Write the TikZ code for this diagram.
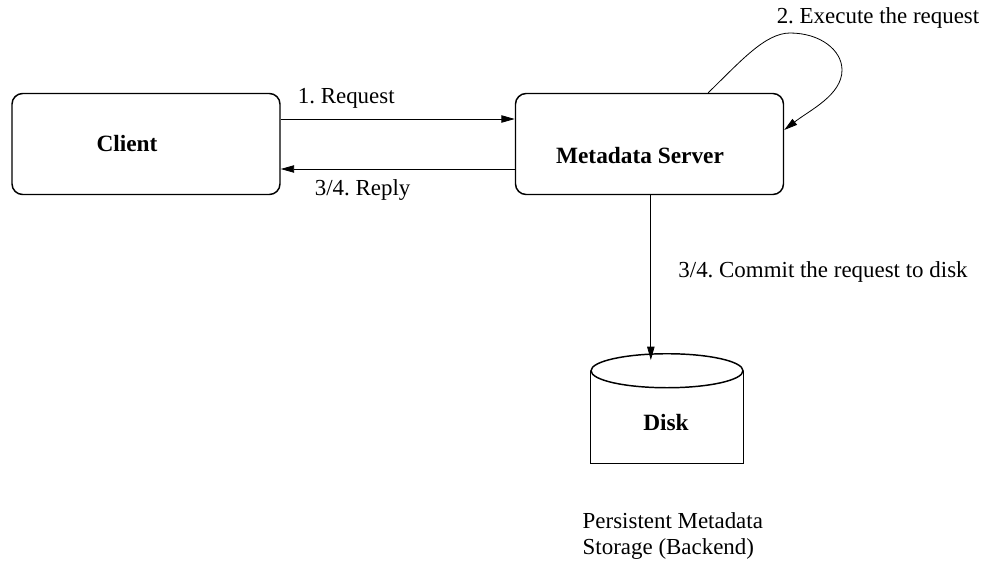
\documentclass[tikz,border=0pt]{standalone}
\usepackage{fontspec}
\setmainfont{Liberation Serif}
\usetikzlibrary{arrows.meta}
\frenchspacing

\begin{document}
\begin{tikzpicture}[x=0.75pt,y=-0.75pt,
    every node/.style={font=\fontsize{17.2}{19.5}\selectfont},
    box/.style={draw,line width=1.1pt,rounded corners=8pt,
      minimum width=201pt,minimum height=75.75pt},
    boxtitle/.style={font=\fontsize{17.5}{19.5}\selectfont\bfseries},
    link/.style={line width=0.6pt,-{Triangle[length=10pt,width=5.5pt]}}]
    \useasboundingbox (0,0) rectangle (982,565);

    % boxes
    \node[box] (cli) at (146,144) {};
    \node[boxtitle] (clitxt) at (127,144) {Client};
    \node[box] (srv) at (649.5,144) {};
    \node[boxtitle] (srvtxt) at (640,156) {Metadata Server};

    % disk (open top drawn as ellipse, flat bottom)
    \node[minimum width=114pt,minimum height=69pt,inner sep=0pt] (dsk) at (667,417) {};
    \draw[line width=1.1pt] (dsk.north west) -- (dsk.south west)
      -- (dsk.south east) -- (dsk.north east);
    \draw[line width=1.1pt] (dsk.north) ellipse [x radius=57pt,y radius=12.75pt];
    \node[boxtitle] (dsktxt) at (666,423) {Disk};
    \node[anchor=west,align=left] (dskinfo) at (578,536)
      {Persistent Metadata\\Storage (Backend)};

    % client <-> server
    \draw[link] ([yshift=18.75pt]cli.east) -- ([yshift=18.75pt]srv.west)
      node[pos=0.28,above=4pt] (req) {1. Request};
    \draw[link] ([yshift=-18.75pt]srv.west) -- ([yshift=-18.75pt]cli.east)
      node[pos=0.65,below=4pt] (rep) {3/4. Reply};

    % self loop
    \draw[link] ([xshift=44pt]srv.north) .. controls (740,62) and (765,33) .. (790,33)
      .. controls (820,33) and (842,50) .. (842,70)
      .. controls (842,95) and (810,110) .. ([yshift=10.5pt]srv.east);
    \node (exe) at (878,18) {2. Execute the request};

    % server -> disk
    \draw[link] ([xshift=1pt]srv.south) -- ([xshift=1pt,yshift=8pt]srv.south |- dsk.north);
    \node (cmt) at (823,272) {3/4. Commit the request to disk};

\end{tikzpicture}
\end{document}
